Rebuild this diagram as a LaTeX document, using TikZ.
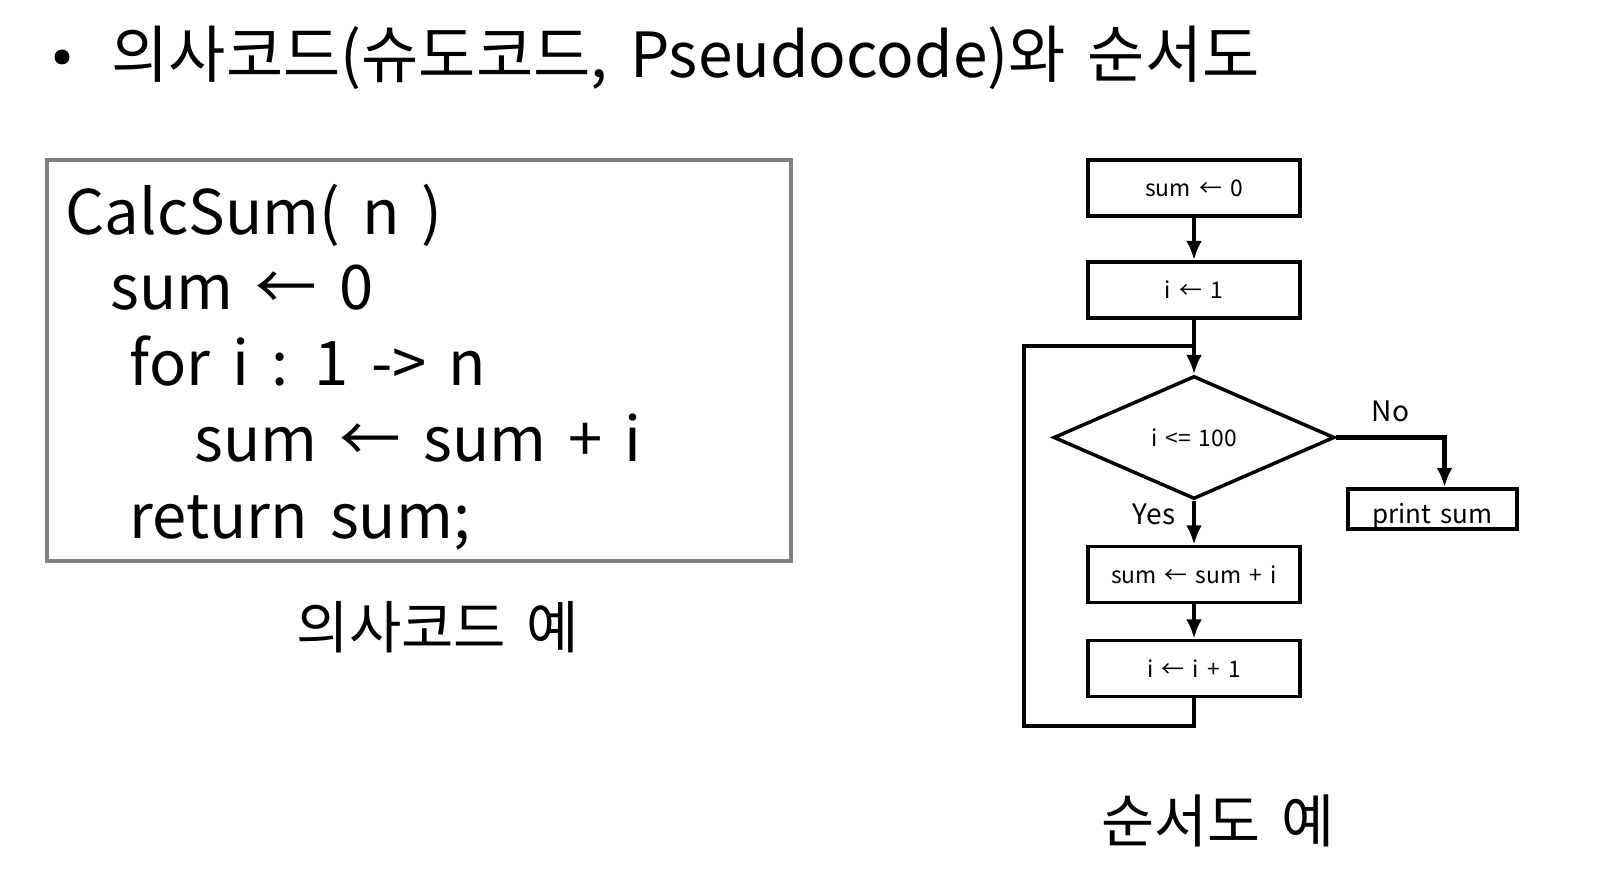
\documentclass[tikz,border=0pt]{standalone}
\usepackage{fontspec}
\setmainfont[WordSpace=1.6]{Noto Sans CJK KR}
\usetikzlibrary{positioning, shapes.geometric, arrows.meta}
\definecolor{frameGray}{RGB}{128, 128, 128}

\tikzset{
  flowbox/.style={draw, line width=1pt, minimum width=2.12cm, minimum height=0.56cm, inner sep=0pt, font=\fontsize{6.5}{8}\selectfont},
  flowlabel/.style={font=\fontsize{8}{10}\selectfont},
  flowline/.style={line width=1.2pt},
  flowarrow/.style={flowline, -{Latex[length=5.5pt,width=4.5pt]}},
  codeline/.style={anchor=base west, inner sep=0pt, font=\fontsize{17.5}{21}\selectfont},
}

\begin{document}
\begin{tikzpicture}
        \useasboundingbox (0,0) rectangle (16.15,8.8);
        % title
        \node[circle, fill, inner sep=0pt, minimum size=0.15cm] (bullet) at (0.62,8.23) {};
        \node[anchor=base west, inner sep=0pt, font=\fontsize{17.7}{21}\selectfont] (title) at (1.11,8.02) {의사코드(슈도코드, Pseudocode)와 순서도};
        % pseudocode
        \node[draw=frameGray, line width=1.2pt, minimum width=7.44cm, minimum height=4.01cm] (codebox) at (4.19,5.195) {};
        \node[codeline] (cline1) at (0.65,6.45) {CalcSum( n )};
        \node[codeline] (cline2) at (1.10,5.71) {sum ← 0};
        \node[codeline] (cline3) at (1.29,4.95) {for i : 1 -> n};
        \node[codeline] (cline4) at (1.94,4.19) {sum ← sum + i};
        \node[codeline] (cline5) at (1.29,3.42) {return sum;};
        \node[font=\fontsize{16.2}{19}\selectfont] (codecap) at (4.38,2.53) {의사코드 예};
        % flowchart
        \node[flowbox] (init) at (11.94,6.92) {sum ← 0};
        \node[flowbox] (start) at (11.94,5.90) {i ← 1};
        \node[draw, diamond, line width=1pt, minimum width=2.81cm, minimum height=1.23cm, inner sep=0pt, font=\fontsize{6.5}{8}\selectfont] (cond) at (11.94,4.425) {i <= 100};
        \node[flowbox] (add) at (11.94,3.055) {sum ← sum + i};
        \node[flowbox] (inc) at (11.94,2.115) {i ← i + 1};
        \node[flowbox, minimum width=1.69cm, minimum height=0.38cm, text height=0.34cm, font=\fontsize{7.4}{9}\selectfont] (print) at (14.325,3.71) {print sum};
        \coordinate (join) at (11.94,5.34);
        \coordinate (loopend) at (10.24,1.54);
        \draw[flowarrow] (init) -- (start);
        \draw[flowarrow] (start) -- (cond);
        \draw[flowarrow] (cond) -- node[left=0.05cm, yshift=0.08cm, flowlabel] (yes) {Yes} (add);
        \draw[flowarrow] (add) -- (inc);
        \draw[flowarrow] (cond.east) -| node[pos=0.25, above=0.02cm, flowlabel] (no) {No} ([xshift=0.12cm]print.north);
        \draw[flowline] (inc.south) |- (loopend) |- (join);
        \node[font=\fontsize{16.4}{19}\selectfont] (flowcap) at (12.18,0.59) {순서도 예};
      \end{tikzpicture}
\end{document}
